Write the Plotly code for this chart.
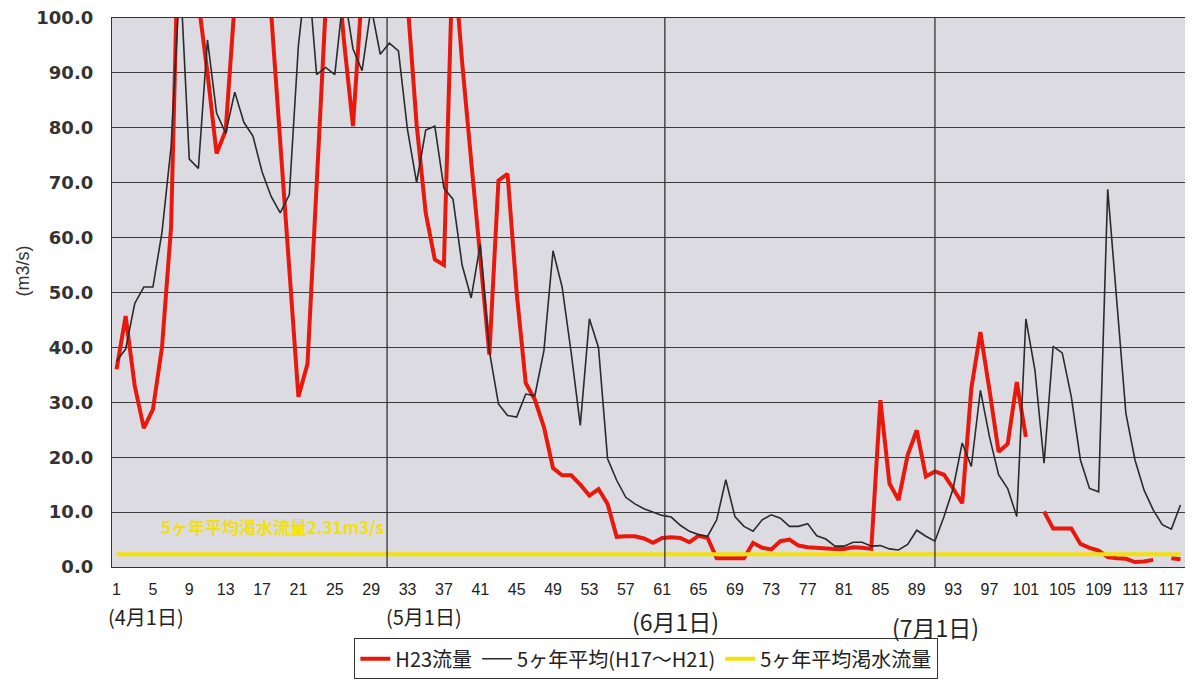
import plotly.graph_objects as go

days = list(range(1, 119))

h23_flow = [
    36.0, 45.7, 33.0, 25.3, 28.7, 40.0, 62.0, 130.0, 140.0, 103.0,
    90.0, 75.3, 79.5, 104.0, 140.0, 150.0, 130.0, 101.0, 77.5, 55.0,
    31.0, 37.0, 68.0, 102.0, 115.0, 96.0, 80.3, 105.0, 130.0, 120.0,
    125.0, 115.0, 103.0, 80.6, 64.5, 56.0, 55.0, 113.0, 92.0, 74.0,
    56.0, 38.7, 70.4, 71.6, 50.0, 33.5, 30.5, 25.5, 18.0, 16.7,
    16.7, 15.0, 13.0, 14.2, 11.5, 5.5, 5.6, 5.6, 5.2, 4.4,
    5.3, 5.4, 5.3, 4.5, 5.7, 5.3, 1.6, 1.6, 1.6, 1.6,
    4.4, 3.5, 3.2, 4.7, 5.0, 3.9, 3.6, 3.5, 3.3, 3.3,
    3.3, 3.6, 3.5, 3.3, 30.4, 15.2, 12.2, 20.4, 24.9, 16.5,
    17.4, 16.8, 14.3, 11.6, 32.5, 42.8, 32.2, 21.0, 22.4, 33.7,
    23.7, None, 10.1, 7.0, 7.0, 7.0, 4.2, 3.5, 3.0, 1.8,
    1.6, 1.5, 0.9, 1.0, 1.3, None, 1.6, 1.4,
]

avg5_flow = [
    37.5, 39.7, 48.0, 51.0, 51.0, 61.0, 76.6, 108.0, 74.3, 72.6,
    96.0, 82.7, 79.0, 86.5, 81.0, 78.5, 72.0, 67.5, 64.5, 67.8,
    95.0, 110.0, 89.7, 91.0, 89.7, 105.0, 94.4, 90.4, 102.0, 93.4,
    95.4, 94.0, 79.6, 70.0, 79.6, 80.3, 69.0, 67.0, 55.0, 49.0,
    58.8, 39.3, 29.7, 27.6, 27.3, 31.5, 31.2, 39.4, 57.6, 51.0,
    39.0, 25.8, 45.2, 40.0, 19.7, 15.8, 12.7, 11.5, 10.6, 10.0,
    9.4, 9.1, 7.6, 6.5, 5.9, 5.6, 8.6, 15.9, 9.2, 7.4,
    6.5, 8.6, 9.5, 8.9, 7.4, 7.4, 7.9, 5.7, 5.1, 3.8,
    3.8, 4.5, 4.5, 3.8, 3.9, 3.3, 3.1, 4.1, 6.7, 5.6,
    4.7, 9.2, 14.3, 22.6, 18.3, 32.2, 23.7, 16.8, 14.3, 9.2,
    45.2, 35.8, 18.9, 40.2, 39.0, 31.0, 19.5, 14.3, 13.7, 68.8,
    48.0, 28.0, 19.5, 14.0, 10.4, 7.7, 6.9, 11.3,
]

drought_flow = 2.31
drought_series = [drought_flow] * len(days)

tick_days = list(range(1, 118, 4))
month_grid_x = [30.75, 61.3, 91.0]
month_labels = ["(4月1日)", "(5月1日)", "(6月1日)", "(7月1日)"]
month_label_x = [4.2, 34.8, 62.5, 91.1]

JP = "Noto Sans CJK JP, Liberation Sans, sans-serif"
NARROW = "Liberation Sans Narrow, Liberation Sans, Arial, sans-serif"

fig = go.Figure()
fig.add_trace(go.Scatter(x=days, y=h23_flow, mode="lines", name="H23流量",
                         line=dict(color="#e8190c", width=4), connectgaps=False))
fig.add_trace(go.Scatter(x=days, y=avg5_flow, mode="lines", name="5ヶ年平均(H17～H21)",
                         line=dict(color="#2b2b2b", width=1.6)))
fig.add_trace(go.Scatter(x=days, y=drought_series, mode="lines", name="5ヶ年平均渇水流量",
                         line=dict(color="#f4e10a", width=4)))

for gx in month_grid_x:
    fig.add_shape(type="line", xref="x", yref="paper", x0=gx, x1=gx, y0=0, y1=1,
                  line=dict(color="#333333", width=1.3), layer="above")

fig.add_annotation(x=5.7, y=7.4, xref="x", yref="y", xanchor="left", yanchor="middle",
                   text="5ヶ年平均渇水流量2.31m3/s", showarrow=False,
                   font=dict(family=JP, size=17, color="#f0e010", weight="bold"))

label_y = [-0.091, -0.091, -0.098, -0.11]
label_size = [20, 20, 23, 23]
for lx, lt, ly, ls in zip(month_label_x, month_labels, label_y, label_size):
    fig.add_annotation(x=lx, y=ly, xref="x", yref="paper", xanchor="center", yanchor="middle",
                       text=lt, showarrow=False, font=dict(family=JP, size=ls, color="#222222"))

fig.add_annotation(x=-0.083, y=0.54, xref="paper", yref="paper", text="(m3/s)",
                   textangle=-90, showarrow=False, xanchor="center", yanchor="middle",
                   font=dict(family="Liberation Sans, Arial, sans-serif", size=18, color="#333333"))

# page body keeps an 8px margin, so the figure is 8px smaller and margins are shifted
fig.update_layout(
    width=1185, height=674,
    margin=dict(l=104, r=8, t=10, b=115),
    paper_bgcolor="white",
    plot_bgcolor="#dcdbe1",
    showlegend=True,
    legend=dict(orientation="h", x=0.498, xanchor="center",
                yref="container", y=0.004, yanchor="bottom",
                bgcolor="white", bordercolor="#333333", borderwidth=1,
                font=dict(family=JP, size=20, color="#222222"),
                itemwidth=30, tracegroupgap=0),
)
fig.update_xaxes(range=[0.5, 118.5], tickmode="array", tickvals=tick_days,
                 ticktext=[str(d) for d in tick_days], showgrid=False, zeroline=False,
                 showline=True, mirror=True, linecolor="#333333", linewidth=1.3,
                 ticks="", ticklabelstandoff=8, automargin=False, ticklabeloverflow="allow",
                 tickfont=dict(family=NARROW, size=16, color="#222222"))
fig.update_yaxes(range=[0, 100], tickmode="linear", tick0=0, dtick=10, tickformat=".1f",
                 showgrid=True, gridcolor="#3a3a3a", gridwidth=1.2, zeroline=False,
                 showline=True, mirror=True, linecolor="#333333", linewidth=1.3,
                 ticks="", ticklabelstandoff=14, automargin=False, ticklabeloverflow="allow",
                 tickfont=dict(family="DejaVu Sans, Liberation Sans, sans-serif", size=18,
                               color="#333333", weight="bold"))

fig.write_html("out.html")
